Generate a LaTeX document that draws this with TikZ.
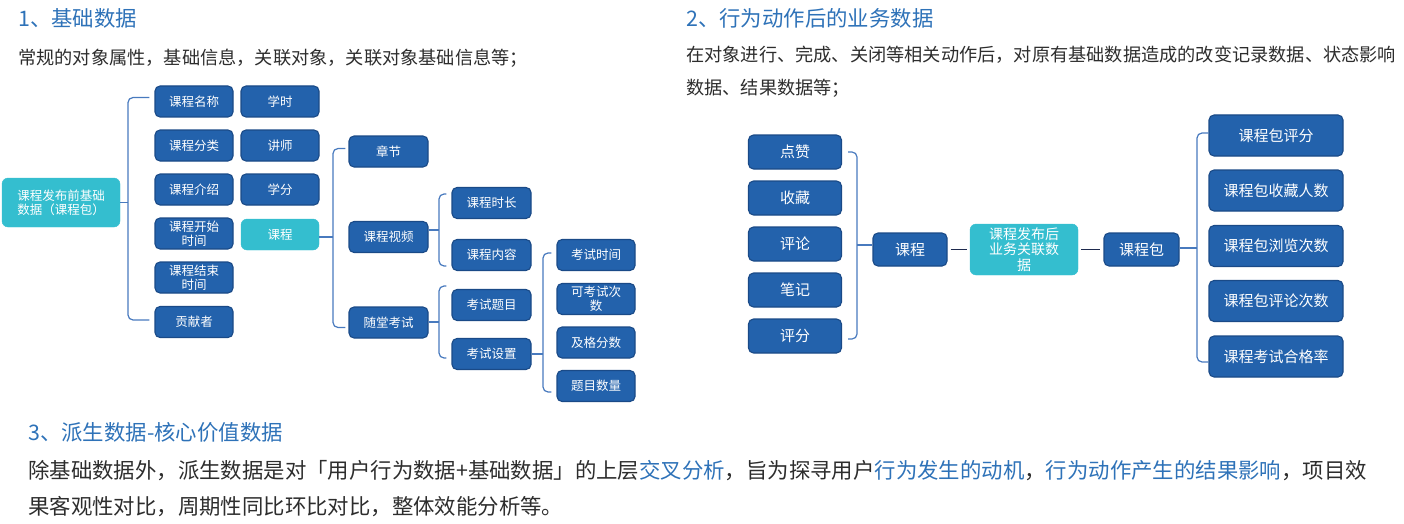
\documentclass[tikz,border=0pt]{standalone}
\usepackage{fontspec}
\setmainfont{Noto Sans CJK SC}
\usetikzlibrary{calc}
\definecolor{boxblue}{RGB}{35,98,172}
\definecolor{boxedge}{RGB}{26,74,135}
\definecolor{cyanbox}{RGB}{52,190,207}
\definecolor{headblue}{RGB}{46,114,184}
\definecolor{bodygrey}{RGB}{45,45,45}
\definecolor{bracel}{RGB}{72,122,190}
\definecolor{navyline}{RGB}{30,42,78}
\begin{document}
\begin{tikzpicture}[x=1pt,y=-1pt,
 box/.style={draw=boxedge, fill=boxblue, line width=1.1pt, rounded corners=5pt, text=white, align=center, inner sep=0pt},
 sa/.style={box, minimum width=78pt, minimum height=31pt, font=\fontsize{12.5}{13.5}\selectfont},
 sb/.style={box, minimum width=93pt, minimum height=34pt, font=\fontsize{15}{17}\selectfont},
 sc/.style={box, minimum width=134pt, minimum height=41pt, font=\fontsize{15}{17}\selectfont},
 cy/.style={fill=cyanbox, draw=cyanbox, rounded corners=6pt, text=white, align=center, inner sep=0pt},
 brl/.style={draw=bracel, line width=1.2pt, rounded corners=5pt},
 nav/.style={draw=navyline, line width=1.2pt, shorten <=3pt, shorten >=3pt},
 head/.style={anchor=base west, inner sep=0pt, text=headblue, font=\fontsize{21.4}{24}\selectfont},
 body/.style={anchor=base west, inner sep=0pt, text=bodygrey, font=\fontsize{18.2}{20}\selectfont},
 bodyb/.style={anchor=base west, inner sep=0pt, text=bodygrey, font=\fontsize{21.4}{24}\selectfont},
]
\useasboundingbox (0,0) rectangle (1404,524);

% ---------- texts ----------
\node[head] (t1) at (18,27) {1、基础数据};
\node[body] (t1b) at (18,65) {常规的对象属性，基础信息，关联对象，关联对象基础信息等；};
\node[head] (t2) at (686,27) {2、行为动作后的业务数据};
\node[body] (t2a) at (686,62) {在对象进行、完成、关闭等相关动作后，对原有基础数据造成的改变记录数据、状态影响};
\node[body] (t2b) at (686,95) {数据、结果数据等；};
\node[head] (t3) at (28,440) {3、派生数据-核心价值数据};
\node[bodyb] (t3a) at (28,478) {除基础数据外，派生数据是对「用户行为数据+基础数据」的上层\textcolor{headblue}{交叉分析}，旨为探寻用户\textcolor{headblue}{行为发生的动机}，\textcolor{headblue}{行为动作产生的结果影响}，项目效};
\node[bodyb] (t3b) at (28,514) {果客观性对比，周期性同比环比对比，整体效能分析等。};

% ---------- section 1 ----------
\node[cy, minimum width=118pt, minimum height=49pt, font=\fontsize{12.5}{14.3}\selectfont] (root) at (61,202.5) {课程发布前基础\\数据（课程包）};
\node[sa] (a1) at (194,101.5) {课程名称};
\node[sa] (a2) at (194,145.5) {课程分类};
\node[sa] (a3) at (194,189.5) {课程介绍};
\node[sa] (a4) at (194,233.5) {课程开始\\时间};
\node[sa] (a5) at (194,277.5) {课程结束\\时间};
\node[sa] (a6) at (194,322) {贡献者};
\node[sa] (b1) at (280,101.5) {学时};
\node[sa] (b2) at (280,145.5) {讲师};
\node[sa] (b3) at (280,189.5) {学分};
\node[cy, minimum width=78pt, minimum height=31pt, font=\fontsize{12.5}{13.5}\selectfont] (b4) at (280,234.5) {课程};
\node[sa, minimum width=79pt] (c1) at (388.5,151.5) {章节};
\node[sa, minimum width=79pt] (c2) at (388.5,237) {课程视频};
\node[sa, minimum width=79pt] (c3) at (388.5,322.5) {随堂考试};
\node[sa, minimum width=79pt] (d1) at (491.5,203) {课程时长};
\node[sa, minimum width=79pt] (d2) at (491.5,255) {课程内容};
\node[sa, minimum width=79pt] (d3) at (491.5,305) {考试题目};
\node[sa, minimum width=79pt] (d4) at (491.5,354) {考试设置};
\node[sa] (e1) at (596,255) {考试时间};
\node[sa] (e2) at (596,299) {可考试次\\数};
\node[sa] (e3) at (596,342.5) {及格分数};
\node[sa] (e4) at (596,386) {题目数量};

\coordinate (k0) at (128,202.5);
\draw[brl] ($(a1.west)+(-5,-4)$) -| (k0) |- ($(a6.west)+(-5,-2)$);
\draw[brl] (root.east) -- (k0);
\coordinate (k1) at (333,237);
\draw[brl] ($(c1.west)+(-3,-3)$) -| (k1) |- ($(c3.west)+(-3,5)$);
\draw[brl] (b4.east |- k1) -- (k1);
\coordinate (k2) at (439,230);
\draw[brl] ($(d1.west)+(-5,-9)$) -| (k2) |- ($(d2.west)+(-5,11)$);
\draw[brl] (c2.east |- k2) -- (k2);
\coordinate (k3) at (439,322);
\draw[brl] ($(d3.west)+(-5,-19)$) -| (k3) |- ($(d4.west)+(-5,4)$);
\draw[brl] (c3.east |- k3) -- (k3);
\coordinate (k4) at (543,354);
\draw[brl] ($(e1.west)+(-5,-2)$) -| (k4) |- ($(e4.west)+(-5,6)$);
\draw[brl] (d4.east |- k4) -- (k4);

% ---------- section 2 ----------
\node[sb] (f1) at (795,152) {点赞};
\node[sb] (f2) at (795,198) {收藏};
\node[sb] (f3) at (795,244) {评论};
\node[sb] (f4) at (795,290) {笔记};
\node[sb] (f5) at (795,336) {评分};
\node[sb, minimum width=74pt, minimum height=33pt] (g) at (910,249.5) {课程};
\node[cy, minimum width=108pt, minimum height=51pt, font=\fontsize{14}{15.5}\selectfont] (h) at (1024,249.5) {课程发布后\\业务关联数\\据};
\node[sb, minimum width=75pt, minimum height=33pt] (p) at (1141.5,249.5) {课程包};
\node[sc] (q1) at (1276,135.5) {课程包评分};
\node[sc] (q2) at (1276,190.5) {课程包收藏人数};
\node[sc] (q3) at (1276,246) {课程包浏览次数};
\node[sc] (q4) at (1276,301) {课程包评论次数};
\node[sc] (q5) at (1276,356.5) {课程考试合格率};

\coordinate (k5) at (857,245);
\draw[brl] ($(f1.east)+(6,0)$) -| (k5) |- ($(f5.east)+(6,3)$);
\draw[brl] (k5) -- (g.west |- k5);
\draw[nav] (g) -- (h);
\draw[nav] (h) -- (p);
\coordinate (k6) at (1197,248);
\draw[brl] ($(q1.west)+(0,-2.5)$) -| (k6) |- ($(q5.west)+(0,5.5)$);
\draw[brl] (p.east |- k6) -- (k6);
\end{tikzpicture}
\end{document}
